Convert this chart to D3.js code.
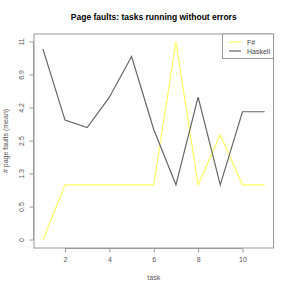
<!DOCTYPE html>
<html>
<head>
<meta charset="utf-8">
<script src="https://cdn.jsdelivr.net/npm/d3@7"></script>
<style>
  body { margin: 0; background: #fff; }
  text { font-family: "Liberation Sans", Arial, sans-serif; }
</style>
</head>
<body>
<div id="chart"></div>
<script>
// data
var tasks = [1, 2, 3, 4, 5, 6, 7, 8, 9, 10, 11];
var fsharp = [0, 1, 1, 1, 1, 1, 11, 1, 2.75, 1, 1];
var haskell = [10, 3.5, 3.1, 5, 9, 3, 1, 5, 1, 4, 4];
var xTicks = [2, 4, 6, 8, 10];
var yTickValues = [0, 0.513, 1.29, 2.46, 4.24, 6.93, 11];
var yTickLabels = ["0", "0.5", "1.3", "2.5", "4.2", "6.9", "11"];
var seriesNames = ["F#", "Haskell"];
var seriesColors = ["#ffff66", "#666666"];

var W = 291, H = 291;
var pL = 34, pR = 273.5, pT = 34, pB = 248;

// R style 4% padding on each side
var x = d3.scaleLinear().domain([0.6, 11.4]).range([pL, pR]);
var ymax = Math.log1p(11);
var yl = d3.scaleLinear()
  .domain([-0.04 * ymax, 1.04 * ymax])
  .range([pB, pT]);
var y = function(v) { return yl(Math.log1p(v)); };

var svg = d3.select("#chart").append("svg")
  .attr("width", W)
  .attr("height", H);

// title
svg.append("text")
  .attr("x", (pL + pR) / 2)
  .attr("y", 20)
  .attr("text-anchor", "middle")
  .attr("font-size", 8.5)
  .attr("font-weight", "bold")
  .text("Page faults: tasks running without errors");

// lines
var line = d3.line()
  .x(function(d, i) { return x(tasks[i]); })
  .y(function(d) { return y(d); });

[fsharp, haskell].forEach(function(s, k) {
  svg.append("path")
    .datum(s)
    .attr("fill", "none")
    .attr("stroke", seriesColors[k])
    .attr("stroke-width", 1.2)
    .attr("d", line);
});

// box
svg.append("rect")
  .attr("x", pL).attr("y", pT)
  .attr("width", pR - pL).attr("height", pB - pT)
  .attr("fill", "none")
  .attr("stroke", "#999")
  .attr("stroke-width", 1);

// x axis
var gx = svg.append("g")
  .attr("transform", "translate(0," + (pB + 0.5) + ")")
  .call(d3.axisBottom(x).tickValues(xTicks).tickSize(4).tickPadding(5).tickFormat(d3.format("d")));
gx.select(".domain").attr("d", "M" + x(2) + ",0H" + x(10)).attr("stroke", "#999");
gx.selectAll("line").attr("stroke", "#999");
gx.selectAll("text").attr("font-size", 7).attr("fill", "#555")
  .attr("font-family", "Liberation Sans, Arial, sans-serif");

// y axis
var gy = svg.append("g")
  .attr("transform", "translate(" + (pL - 0.5) + ",0)");
gy.append("path")
  .attr("d", "M0," + y(0) + "V" + y(11))
  .attr("stroke", "#999").attr("fill", "none");
yTickValues.forEach(function(v, i) {
  gy.append("line")
    .attr("x1", 0).attr("x2", -4)
    .attr("y1", y(v)).attr("y2", y(v))
    .attr("stroke", "#999");
  gy.append("text")
    .attr("transform", "translate(-10," + y(v) + ") rotate(-90)")
    .attr("text-anchor", "middle")
    .attr("font-size", 7)
    .attr("fill", "#555")
    .text(yTickLabels[i]);
});

// axis titles
svg.append("text")
  .attr("x", (pL + pR) / 2)
  .attr("y", 280)
  .attr("text-anchor", "middle")
  .attr("font-size", 7)
  .attr("fill", "#555")
  .text("task");
svg.append("text")
  .attr("transform", "translate(8," + ((pT + pB) / 2) + ") rotate(-90)")
  .attr("text-anchor", "middle")
  .attr("font-size", 7)
  .attr("fill", "#555")
  .text("# page faults (mean)");

// legend
var lg = svg.append("g");
lg.append("rect")
  .attr("x", 222.5).attr("y", pT)
  .attr("width", pR - 222.5).attr("height", 24.5)
  .attr("fill", "#fff")
  .attr("stroke", "#999");
seriesNames.forEach(function(n, k) {
  var ly = 42 + k * 9;
  lg.append("line")
    .attr("x1", 229).attr("x2", 241)
    .attr("y1", ly).attr("y2", ly)
    .attr("stroke", seriesColors[k])
    .attr("stroke-width", 1.2);
  lg.append("text")
    .attr("x", 247).attr("y", ly + 2.5)
    .attr("font-size", 7)
    .attr("fill", "#444")
    .text(n);
});
</script>
</body>
</html>
